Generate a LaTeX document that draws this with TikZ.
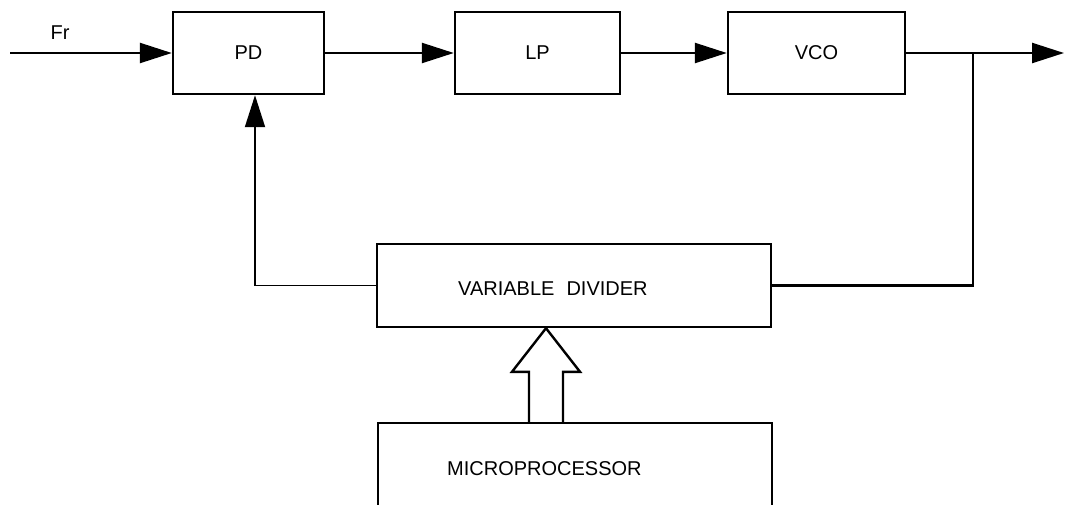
\documentclass[tikz,border=0pt]{standalone}
\usepackage{fontspec}
\setmainfont{Liberation Sans}
\usetikzlibrary{arrows.meta,calc}
\begin{document}
\begin{tikzpicture}[x=0.75pt,y=-0.75pt,
  line width=1.8pt,
  blk/.style={draw,line width=1.8pt,rectangle,inner sep=0pt,font=\fontsize{15}{17}\selectfont},
  lbl/.style={inner sep=0pt,font=\fontsize{15}{17}\selectfont},
  arr/.style={-{Triangle[length=24pt,width=15pt]}},
  hollow/.style={draw,fill=white,line width=1.8pt,line join=miter}]
\useasboundingbox (0,0) rectangle (1065,504);
\clip (0,0) rectangle (1065,504);
% blocks
\node[blk,minimum width=113.25pt,minimum height=61.5pt] (pd) at (248.5,53) {PD};
\node[blk,minimum width=123.75pt,minimum height=61.5pt] (lp) at (537.5,53) {LP};
\node[blk,minimum width=132.75pt,minimum height=61.5pt] (vco) at (816.5,53) {VCO};
\node[blk,minimum width=295.5pt,minimum height=62.25pt] (vd) at (574,285.5) {};
\node[blk,minimum width=295.5pt,minimum height=87.75pt] (mp) at (575,481.5) {};
% texts
\node[lbl,anchor=west] (vdtext) at (457,289) {VARIABLE\hspace{0.6em}DIVIDER};
\node[lbl,anchor=west] (mptext) at (446,469) {MICROPROCESSOR};
\node[lbl] (frtext) at (60,33) {Fr};
% coordinates
\coordinate (fr) at (10,53);
\coordinate (out) at (1064,53);
\coordinate (br) at (973,53);
\coordinate (fb) at ($(pd.south)+(6.5,0)$);
% forward path
\draw[arr] (fr) -- (pd.west);
\draw[arr] (pd.east) -- (lp.west);
\draw[arr] (lp.east) -- (vco.west);
\draw[arr] (vco.east) -- (out);
% feedback
\draw (br) |- (vd.east);
\draw[arr,line width=1.4pt] (vd.west) -| (fb);
% hollow bus arrow
\coordinate (tip) at ($(vd.south)+(-28,0)$);
\coordinate (base) at ($(mp.north)+(-29,0)$);
\draw[hollow] ($(base)+(-17,0)$) -- ($(base)+(-17,-50)$) -- ($(base)+(-34,-50)$)
  -- (tip) -- ($(base)+(34,-50)$) -- ($(base)+(17,-50)$) -- ($(base)+(17,0)$);
\end{tikzpicture}
\end{document}
